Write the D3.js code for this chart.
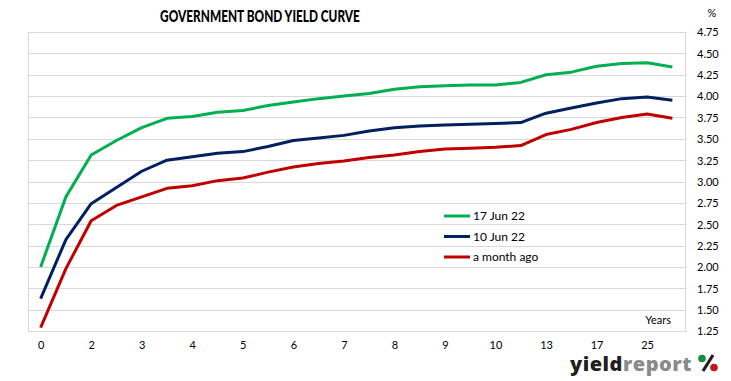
<!DOCTYPE html>
<html>
<head>
<meta charset="utf-8">
<script src="https://cdn.jsdelivr.net/npm/d3@7"></script>
<style>
  body { margin: 0; background: #fff; }
  text { font-family: Lato, "Open Sans", sans-serif; fill: #000; }
</style>
</head>
<body>
<div class="chart"></div>
<script>
// maturities (every other label is shown on the axis)
const categories = ['0','1','2','2.5','3','3.5','4','4.5','5','5.5','6','6.5','7','7.5','8','8.5','9','9.5','10','11','13','15','17','21','25','29'];
const jun17 = [2.00,2.82,3.31,3.48,3.63,3.74,3.76,3.81,3.83,3.89,3.93,3.97,4.00,4.03,4.08,4.11,4.12,4.13,4.13,4.16,4.25,4.28,4.35,4.38,4.39,4.34];
const jun10 = [1.63,2.32,2.74,2.93,3.12,3.25,3.29,3.33,3.35,3.41,3.48,3.51,3.54,3.59,3.63,3.65,3.66,3.67,3.68,3.69,3.80,3.86,3.92,3.97,3.99,3.95];
const monthAgo = [1.29,1.98,2.54,2.72,2.82,2.92,2.95,3.01,3.04,3.11,3.17,3.21,3.24,3.28,3.31,3.35,3.38,3.39,3.40,3.42,3.55,3.61,3.69,3.75,3.79,3.74];
const yTicks = [1.25,1.5,1.75,2,2.25,2.5,2.75,3,3.25,3.5,3.75,4,4.25,4.5,4.75];

const series = [
  {name:'17 Jun 22', values: jun17, color:'#00b050'},
  {name:'10 Jun 22', values: jun10, color:'#002060'},
  {name:'a month ago', values: monthAgo, color:'#c00000'}
];

const width = 731, height = 381;
const plot = {left:28, right:685, top:32, bottom:331};

const svg = d3.select(".chart").append("svg")
  .attr("width", width)
  .attr("height", height);

const x = d3.scalePoint()
  .domain(categories)
  .range([plot.left, plot.right])
  .padding(0.5);

const y = d3.scaleLinear()
  .domain([1.25, 4.75])
  .range([plot.bottom, plot.top]);

// gridlines
svg.append("g")
  .selectAll("line")
  .data(yTicks)
  .enter()
  .append("line")
  .attr("x1", plot.left)
  .attr("x2", plot.right)
  .attr("y1", d => Math.round(y(d)) + 0.5)
  .attr("y2", d => Math.round(y(d)) + 0.5)
  .attr("stroke", "#d9d9d9")
  .attr("stroke-width", 1);

// plot border
svg.append("rect")
  .attr("x", plot.left + 0.5)
  .attr("y", plot.top + 0.5)
  .attr("width", plot.right - plot.left)
  .attr("height", plot.bottom - plot.top)
  .attr("fill", "none")
  .attr("stroke", "#d9d9d9");

// y axis on the right
const yAxis = svg.append("g")
  .attr("transform", "translate(" + (plot.right + 12) + ",0)")
  .call(d3.axisRight(y).tickValues(yTicks).tickFormat(d3.format(".2f")).tickSize(0));
yAxis.select(".domain").remove();
yAxis.selectAll("text")
  .attr("x", 0)
  .attr("dy", "0.35em")
  .style("font-size", "11px")
  .style("text-anchor", "start");

// x axis
const xAxis = svg.append("g")
  .attr("transform", "translate(0," + plot.bottom + ")")
  .call(d3.axisBottom(x).tickValues(categories.filter((d, i) => i % 2 === 0)).tickSize(0));
xAxis.select(".domain").remove();
xAxis.selectAll("text")
  .attr("y", 10)
  .style("font-size", "11px");

// lines
const line = d3.line()
  .x((d, i) => x(categories[i]))
  .y(d => y(d));

svg.selectAll(".series")
  .data(series)
  .enter()
  .append("path")
  .attr("class", "series")
  .attr("fill", "none")
  .attr("stroke", d => d.color)
  .attr("stroke-width", 3)
  .attr("stroke-linejoin", "round")
  .attr("d", d => line(d.values));

// legend
const legend = svg.selectAll(".legend")
  .data(series)
  .enter()
  .append("g")
  .attr("class", "legend")
  .attr("transform", (d, i) => "translate(444," + (216 + i * 20.5) + ")");
legend.append("line")
  .attr("x1", 0).attr("x2", 26)
  .attr("stroke", d => d.color)
  .attr("stroke-width", 3);
legend.append("text")
  .attr("x", 29)
  .attr("dy", "0.35em")
  .style("font-size", "12px")
  .text(d => d.name);

// title, squeezed to look like a condensed face
svg.append("text")
  .attr("transform", "translate(260,22) scale(0.74,1)")
  .attr("text-anchor", "middle")
  .style("font-size", "16px")
  .style("font-weight", "900")
  .text("GOVERNMENT BOND YIELD CURVE");

svg.append("text")
  .attr("x", 712)
  .attr("y", 17)
  .attr("text-anchor", "middle")
  .style("font-size", "11px")
  .text("%");

svg.append("text")
  .attr("x", 671)
  .attr("y", 324)
  .attr("text-anchor", "end")
  .style("font-size", "11px")
  .text("Years");

// logo
const logo = svg.append("text")
  .attr("x", 570)
  .attr("y", 371)
  .style("font-family", "'Open Sans', sans-serif")
  .style("font-size", "20px")
  .style("font-weight", "800")
  .style("letter-spacing", "0.5px");
logo.append("tspan").style("fill", "#231f20").text("yield");
logo.append("tspan").style("fill", "#8a8a8c").text("report");

svg.append("line")
  .attr("x1", 703).attr("y1", 371)
  .attr("x2", 713).attr("y2", 355)
  .attr("stroke", "#231f20")
  .attr("stroke-width", 3.2);
svg.append("circle")
  .attr("cx", 702).attr("cy", 358.5).attr("r", 3.8)
  .attr("fill", "#1a8a3e");
svg.append("circle")
  .attr("cx", 714).attr("cy", 367.5).attr("r", 3.8)
  .attr("fill", "#c4161c");
</script>
</body>
</html>
